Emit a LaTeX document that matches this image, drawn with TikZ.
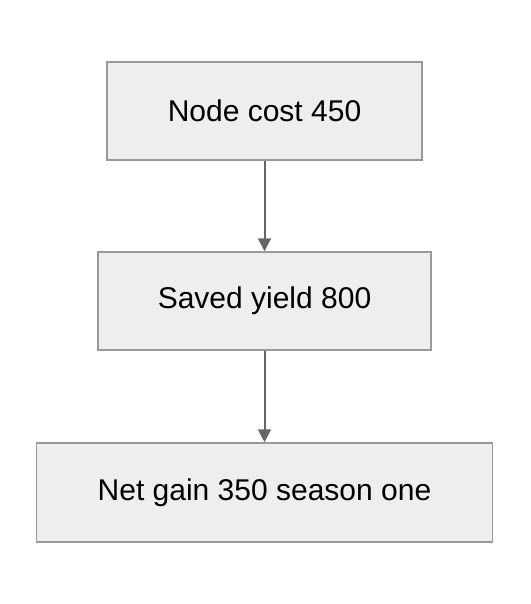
\documentclass[tikz,border=0pt]{standalone}
\usepackage{fontspec}
\setmainfont{Liberation Sans}
\usetikzlibrary{arrows.meta}
\definecolor{boxfill}{HTML}{EEEEEE}
\definecolor{boxline}{HTML}{999999}
\definecolor{arrowcol}{HTML}{666666}
\begin{document}
\begin{tikzpicture}[x=1pt,y=1pt,
  box/.style={draw=boxline,fill=boxfill,line width=1.5pt,inner sep=0pt,
    font=\fontsize{30}{36}\selectfont,text=black},
  conn/.style={draw=arrowcol,line width=2pt,-{Triangle[length=13pt,width=13pt]}}]
\useasboundingbox (0,0) rectangle (530,-604);
\node[box,minimum width=315pt,minimum height=98pt] (n1) at (264.5,-111) {Node cost 450};
\node[box,minimum width=333pt,minimum height=98pt] (n2) at (264.5,-301) {Saved yield 800};
\node[box,minimum width=456pt,minimum height=99pt] (n3) at (264.5,-492.5) {Net gain 350 season one};
\draw[conn] (n1) -- (n2);
\draw[conn] (n2) -- (n3);
\end{tikzpicture}
\end{document}
